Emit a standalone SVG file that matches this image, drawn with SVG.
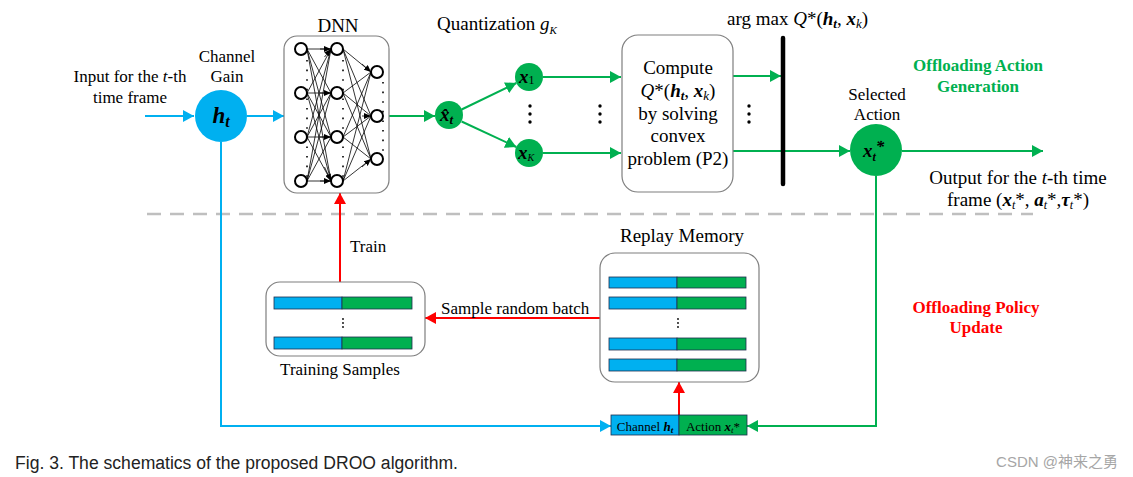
<svg xmlns="http://www.w3.org/2000/svg" width="1133" height="477" viewBox="0 0 1133 477">
<style>
.t{font-family:"Liberation Serif","Times New Roman",serif;fill:#000}
.s17{font-size:17px}
.s19{font-size:19px}
.bi{font-weight:bold;font-style:italic}
.it{font-style:italic}
.box{fill:#fff;stroke:#7f7f7f;stroke-width:1.2}
.blue{stroke:#00B0F0;stroke-width:2;fill:none}
.green{stroke:#00B050;stroke-width:2;fill:none}
.red{stroke:#FF0000;stroke-width:2;fill:none}
.nn{stroke:#000;stroke-width:0.8;fill:none}
.neuron{fill:#fff;stroke:#000;stroke-width:2}
.bb{fill:#00B0F0;stroke:#1f2f4f;stroke-width:0.8}
.bg{fill:#00B050;stroke:#1f2f4f;stroke-width:0.8}
.dots{stroke:#000;stroke-width:1.6;stroke-dasharray:1.6 8;fill:none}
</style>
<defs>
<marker id="ab" markerUnits="userSpaceOnUse" markerWidth="11" markerHeight="12" refX="11" refY="6" orient="auto"><path d="M0,0 L11,6 L0,12 z" fill="#00B0F0"/></marker>
<marker id="ag" markerUnits="userSpaceOnUse" markerWidth="11" markerHeight="12" refX="11" refY="6" orient="auto"><path d="M0,0 L11,6 L0,12 z" fill="#00B050"/></marker>
<marker id="ar" markerUnits="userSpaceOnUse" markerWidth="11" markerHeight="12" refX="11" refY="6" orient="auto"><path d="M0,0 L11,6 L0,12 z" fill="#FF0000"/></marker>
<marker id="ak" markerUnits="userSpaceOnUse" markerWidth="7" markerHeight="6" refX="7" refY="3" orient="auto"><path d="M0,0 L7,3 L0,6 z" fill="#000"/></marker>
</defs>

<!-- dashed separator -->
<line x1="147" y1="214" x2="1033" y2="214" stroke="#BFBFBF" stroke-width="2.5" stroke-dasharray="14 9"/>

<!-- connectors -->
<g id="connectors">
  <path class="blue" d="M145,116 L194,116" marker-end="url(#ab)"/>
  <path class="blue" d="M247,116 L284,116" marker-end="url(#ab)"/>
  <path class="blue" d="M221,142 L221,426 L611,426" marker-end="url(#ab)"/>
  <path class="green" d="M389,116 L435,116" marker-end="url(#ag)"/>
  <path class="green" d="M461.6,109.5 L516.4,83" marker-end="url(#ag)"/>
  <path class="green" d="M461.6,121.5 L516.4,147" marker-end="url(#ag)"/>
  <path class="green" d="M543,77 L621,77" marker-end="url(#ag)"/>
  <path class="green" d="M543,153 L621,153" marker-end="url(#ag)"/>
  <path class="green" d="M733,76 L781,76" marker-end="url(#ag)"/>
  <path class="green" d="M733,151 L850,151" marker-end="url(#ag)"/>
  <path class="green" d="M902,151 L1043,151" marker-end="url(#ag)"/>
  <path class="green" d="M876,176 L876,426 L747,426" marker-end="url(#ag)"/>
  <path class="red" d="M340,282 L340,193" marker-end="url(#ar)"/>
  <path class="red" d="M600,318 L425,318" marker-end="url(#ar)"/>
  <path class="red" d="M679,415 L679,382" marker-end="url(#ar)"/>
</g>

<!-- input label -->
<g id="input-label">
  <text class="t s17" x="130" y="82" text-anchor="middle">Input for the <tspan class="it">t</tspan>-th</text>
  <text class="t s17" x="130" y="103" text-anchor="middle">time frame</text>
</g>

<!-- channel gain node -->
<g id="channel-gain">
  <text class="t s17" x="227" y="62" text-anchor="middle">Channel</text>
  <text class="t s17" x="227" y="82" text-anchor="middle">Gain</text>
  <circle cx="221" cy="116" r="26" fill="#00B0F0"/>
  <text class="t bi" x="221" y="123" text-anchor="middle" font-size="23">h<tspan font-size="16" dy="4">t</tspan></text>
</g>

<!-- DNN -->
<g id="dnn">
  <text class="t" x="338" y="32" text-anchor="middle" font-size="19">DNN</text>
  <rect class="box" x="284" y="36" width="105" height="157" rx="13"/>
  <g class="nn">
    <path d="M307,49 L331,49 M307,49 L331,93 M307,49 L331,137 M307,49 L331,181
             M307,93 L331,49 M307,93 L331,93 M307,93 L331,137 M307,93 L331,181
             M307,137 L331,49 M307,137 L331,93 M307,137 L331,137 M307,137 L331,181
             M307,181 L331,49 M307,181 L331,93 M307,181 L331,137 M307,181 L331,181"/>
    <path d="M343,49 L371,72 M343,49 L371,116 M343,49 L371,159
             M343,93 L371,72 M343,93 L371,116 M343,93 L371,159
             M343,137 L371,72 M343,137 L371,116 M343,137 L371,159
             M343,181 L371,72 M343,181 L371,116 M343,181 L371,159"/>
  </g>
  <g marker-end="url(#ak)" class="nn">
    <path d="M320,49 L331,49"/><path d="M320,93 L331,93"/><path d="M320,137 L331,137"/><path d="M320,181 L331,181"/>
    <path d="M324.5,57 L331,49"/><path d="M324.5,167 L331,181"/>
    <path d="M362,64 L371,72"/><path d="M362,116 L371,116"/><path d="M362,167 L371,159"/>
  </g>
  <path class="dots" d="M307,60 L307,178"/>
  <path class="dots" d="M343,60 L343,178"/>
  <path class="dots" d="M383,82 L383,155"/>
  <g>
    <circle class="neuron" cx="301" cy="49" r="6"/><circle class="neuron" cx="301" cy="93" r="6"/>
    <circle class="neuron" cx="301" cy="137" r="6"/><circle class="neuron" cx="301" cy="181" r="6"/>
    <circle class="neuron" cx="337" cy="49" r="6"/><circle class="neuron" cx="337" cy="93" r="6"/>
    <circle class="neuron" cx="337" cy="137" r="6"/><circle class="neuron" cx="337" cy="181" r="6"/>
    <circle class="neuron" cx="377" cy="72" r="6"/><circle class="neuron" cx="377" cy="116" r="6"/>
    <circle class="neuron" cx="377" cy="159" r="6"/>
  </g>
</g>

<!-- quantization -->
<g id="quantization">
  <text class="t s19" x="437" y="30">Quantization <tspan class="it">g</tspan><tspan class="it" font-size="11" dy="4">K</tspan></text>
</g>

<g id="xhat">
  <circle cx="449" cy="115" r="14" fill="#00B050"/>
  <text class="t bi" x="440" y="121" font-size="19">x&#x302;<tspan font-size="13" dy="3">t</tspan></text>
</g>

<g id="x1">
  <circle cx="529" cy="77" r="14" fill="#00B050"/>
  <text class="t bi" x="519" y="83" font-size="19">x<tspan font-weight="normal" font-style="normal" font-size="12" dy="1">1</tspan></text>
</g>

<g id="xK">
  <circle cx="529" cy="153" r="14" fill="#00B050"/>
  <text class="t bi" x="518" y="159" font-size="19">x<tspan font-weight="normal" font-size="10" dy="2">K</tspan></text>
</g>

<g id="ellipses" fill="#000">
  <circle cx="530" cy="106" r="1.7"/><circle cx="530" cy="114" r="1.7"/><circle cx="530" cy="122" r="1.7"/>
  <circle cx="600" cy="106" r="1.7"/><circle cx="600" cy="114" r="1.7"/><circle cx="600" cy="122" r="1.7"/>
  <circle cx="749" cy="106" r="1.7"/><circle cx="749" cy="114" r="1.7"/><circle cx="749" cy="122" r="1.7"/>
</g>

<!-- compute box -->
<g id="compute">
  <rect class="box" x="622" y="35" width="111" height="157" rx="16"/>
  <text class="t s19" x="678" y="74" text-anchor="middle">Compute</text>
  <text class="t s19" x="678" y="97" text-anchor="middle"><tspan class="it">Q</tspan>*(<tspan class="bi">h</tspan><tspan class="bi" font-size="13" dy="3">t</tspan><tspan dy="-3">, </tspan><tspan class="bi">x</tspan><tspan class="it" font-size="13" dy="3">k</tspan><tspan dy="-3">)</tspan></text>
  <text class="t s19" x="678" y="120" text-anchor="middle">by solving</text>
  <text class="t s19" x="678" y="142" text-anchor="middle">convex</text>
  <text class="t s19" x="678" y="165" text-anchor="middle">problem (P2)</text>
</g>

<!-- argmax bar -->
<g id="argmax">
  <text class="t s19" x="727" y="25">arg max <tspan class="it">Q</tspan>*(<tspan class="bi">h</tspan><tspan class="bi" font-size="13" dy="3">t</tspan><tspan dy="-3">, </tspan><tspan class="bi">x</tspan><tspan class="it" font-size="13" dy="3">k</tspan><tspan dy="-3">)</tspan></text>
  <line x1="783" y1="38" x2="783" y2="184" stroke="#000" stroke-width="4.5" stroke-linecap="round"/>
</g>

<!-- selected action -->
<g id="selected-action">
  <text class="t s17" x="877" y="100" text-anchor="middle">Selected</text>
  <text class="t s17" x="877" y="120" text-anchor="middle">Action</text>
  <circle cx="876" cy="150" r="26" fill="#00B050"/>
  <text class="t bi" x="863" y="157" font-size="19">x<tspan font-size="12" dy="4">t</tspan><tspan font-size="17" dy="-9">*</tspan></text>
</g>

<g id="gen-label">
  <text class="t s17" x="978" y="71" text-anchor="middle" font-weight="bold" style="fill:#00B050">Offloading Action</text>
  <text class="t s17" x="978" y="92" text-anchor="middle" font-weight="bold" style="fill:#00B050">Generation</text>
</g>

<g id="output-label">
  <text class="t s19" x="1018" y="184" text-anchor="middle">Output for the <tspan class="it">t</tspan>-th time</text>
  <text class="t s19" x="1018" y="206" text-anchor="middle">frame (<tspan class="bi">x</tspan><tspan class="it" font-size="12" dy="3">t</tspan><tspan dy="-3">*, </tspan><tspan class="bi">a</tspan><tspan class="it" font-size="12" dy="3">t</tspan><tspan dy="-3">*,</tspan><tspan class="bi">τ</tspan><tspan class="it" font-size="12" dy="3">t</tspan><tspan dy="-3">*)</tspan></text>
</g>

<g id="policy-label">
  <text class="t s17" x="976" y="313" text-anchor="middle" font-weight="bold" style="fill:#FF0000">Offloading Policy</text>
  <text class="t s17" x="976" y="333" text-anchor="middle" font-weight="bold" style="fill:#FF0000">Update</text>
</g>

<!-- training samples -->
<g id="training-samples">
  <text class="t s17" x="350" y="252">Train</text>
  <rect class="box" x="266" y="282" width="159" height="74" rx="14"/>
  <rect class="bb" x="274" y="297" width="68" height="12"/><rect class="bg" x="342" y="297" width="70" height="12"/>
  <rect class="bb" x="274" y="337" width="68" height="12"/><rect class="bg" x="342" y="337" width="70" height="12"/>
  <g fill="#000"><circle cx="343" cy="319" r="0.9"/><circle cx="343" cy="323" r="0.9"/><circle cx="343" cy="327" r="0.9"/></g>
  <text class="t s17" x="340" y="375" text-anchor="middle">Training Samples</text>
</g>

<g id="sample-label">
  <text class="t s17" x="441" y="314">Sample random batch</text>
</g>

<!-- replay memory -->
<g id="replay-memory">
  <text class="t s19" x="682" y="242" text-anchor="middle">Replay Memory</text>
  <rect class="box" x="600" y="253" width="159" height="129" rx="15"/>
  <rect class="bb" x="609" y="277" width="68" height="11"/><rect class="bg" x="677" y="277" width="69" height="11"/>
  <rect class="bb" x="609" y="297" width="68" height="12"/><rect class="bg" x="677" y="297" width="69" height="12"/>
  <g fill="#000"><circle cx="678" cy="319" r="0.9"/><circle cx="678" cy="323" r="0.9"/><circle cx="678" cy="327" r="0.9"/></g>
  <rect class="bb" x="609" y="338" width="68" height="12"/><rect class="bg" x="677" y="338" width="69" height="12"/>
  <rect class="bb" x="609" y="359" width="68" height="12"/><rect class="bg" x="677" y="359" width="69" height="12"/>
</g>

<!-- channel/action record -->
<g id="record">
  <rect class="bb" x="611" y="415" width="68" height="20"/>
  <rect class="bg" x="679" y="415" width="68" height="20"/>
  <text class="t" x="645" y="431" text-anchor="middle" font-size="13">Channel <tspan class="bi">h</tspan><tspan class="bi" font-size="9" dy="2">t</tspan></text>
  <text class="t" x="713" y="431" text-anchor="middle" font-size="13">Action <tspan class="bi">x</tspan><tspan class="it" font-size="9" dy="2">t</tspan><tspan dy="-2">*</tspan></text>
</g>

<!-- caption -->
<text x="15" y="469" font-family="'Liberation Sans Narrow','Liberation Sans',Arial,sans-serif" font-size="18" fill="#222" textLength="443" lengthAdjust="spacingAndGlyphs">Fig. 3. The schematics of the proposed DROO algorithm.</text>
<text x="1118" y="467" text-anchor="end" font-family="'Liberation Sans','Noto Sans CJK SC',sans-serif" font-size="15" fill="#a6a6a6">CSDN @神来之勇</text>
</svg>
